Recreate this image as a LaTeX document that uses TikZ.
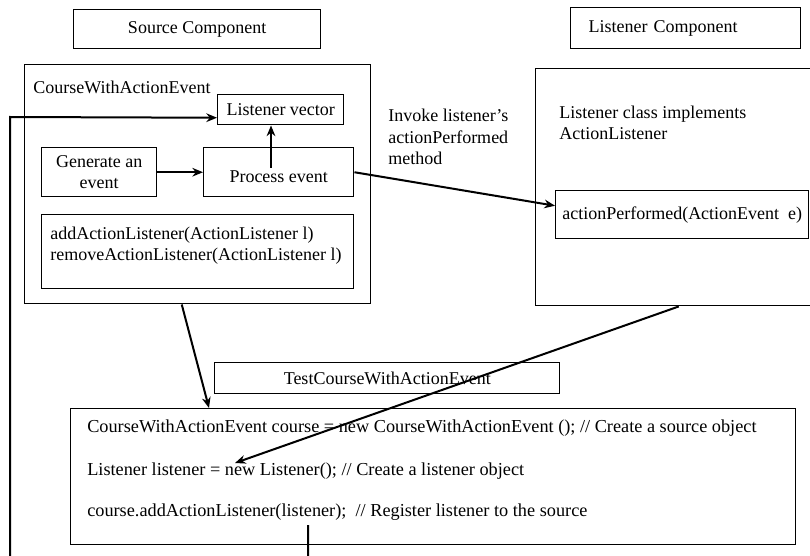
\documentclass[tikz,border=0pt]{standalone}
\usepackage{fontspec}
\setmainfont{Liberation Serif}
\usetikzlibrary{arrows.meta,positioning}

\begin{document}
\begin{tikzpicture}[
    x=0.75pt, y=-0.75pt,
    every node/.style={font=\fontsize{13.5}{16}\selectfont, inner sep=0pt},
    box/.style={draw, line width=1.1pt, anchor=north west},
    txt/.style={anchor=west, align=left},
    codeline/.style={txt, font=\fontsize{13.7}{16}\selectfont},
    arrow/.style={-{Stealth[length=8pt,width=6.5pt]}, line width=1.5pt}
]
\useasboundingbox (0,0) rectangle (810,556);
\clip (0,0) rectangle (810,556);
\node[box, minimum width=185.25pt, minimum height=29.25pt] (srccomp) at (73,9) {Source Component};
\node[box, minimum height=30.75pt, text width=145.5pt, inner xsep=13.5pt, align=left] (lsncomp) at (570,7) {Listener Component};
\node[box, minimum width=259.5pt, minimum height=179.25pt] (srcbox) at (24,64) {};
\node[txt] (srctitle) at (33,87) {CourseWithActionEvent};
\node[box, minimum width=94.5pt, minimum height=22.5pt] (vec) at (217,94) {Listener vector};
\node[box, minimum width=86.25pt, minimum height=36.75pt, align=center] (gen) at (41,147) {Generate an\\event};
\node[box, minimum width=112.5pt, minimum height=36.75pt, align=center] (proc) at (203,147) {\mbox{}\\Process event};
\node[box, minimum width=234pt, minimum height=55.5pt] (addbox) at (41,214) {};
\node[txt] (addtxt) at (50,246) {addActionListener(ActionListener l)\\removeActionListener(ActionListener l)};
\node[txt] (invoke) at (388,137) {Invoke listener's\\actionPerformed\\method};
\node[box, minimum width=210pt, minimum height=177.75pt] (lsnbox) at (535,68) {};
\node[txt] (lsntxt) at (559,123) {Listener class implements\\ActionListener};
\node[box, minimum width=189.75pt, minimum height=36pt] (perf) at (555,190) {actionPerformed(ActionEvent\ \ e)};
\node[box, minimum width=258.75pt, minimum height=23.25pt] (test) at (214,362) {TestCourseWithActionEvent};
\node[box, minimum width=543.75pt, minimum height=102pt] (code) at (70,408) {};
\node[codeline] (l1) at (87,428) {CourseWithActionEvent course = new CourseWithActionEvent (); // Create a source object};
\node[codeline] (l2) at (87,471) {Listener listener = new Listener(); // Create a listener object};
\node[codeline] (l3) at (87,512) {course.addActionListener(listener);\ \ // Register listener to the source};
\coordinate (pv) at (271,168);
\coordinate (newpt) at (235,463);
\coordinate (reg) at (308,525);
\draw[arrow] (gen) -- (proc);
\draw[arrow] (pv) -- (pv |- vec.south);
\draw[arrow] (proc.east) -- ([yshift=6.75pt]perf.west);
\draw[arrow] ([xshift=-12pt]srcbox.south) -- ([xshift=104.25pt]code.north west);
\draw[arrow] ([xshift=2.25pt]lsnbox.south) -- (newpt);
\draw[arrow] (reg) -- ++(0,55) -- (10,580) -- (10,117) -- ([yshift=-6pt]vec.west);
\end{tikzpicture}
\end{document}
